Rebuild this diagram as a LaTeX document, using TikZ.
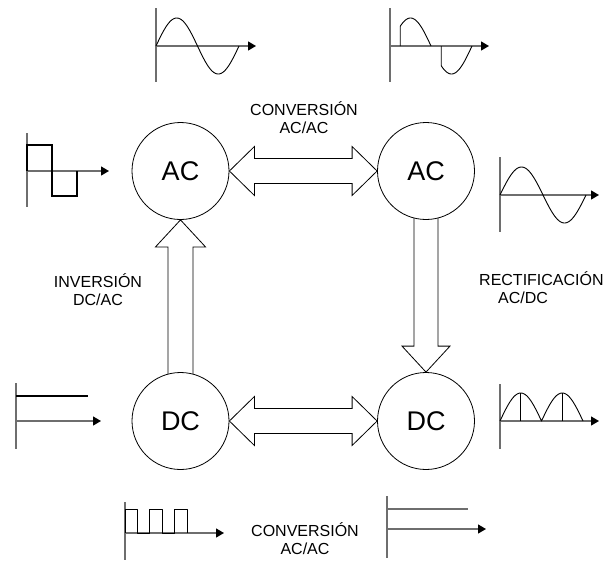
\documentclass[tikz,border=0pt]{standalone}
\usepackage{fontspec}
\setmainfont{Liberation Sans}
\usetikzlibrary{arrows.meta,calc,backgrounds}
\definecolor{axisgray}{RGB}{110,110,110}
\begin{document}
\begin{tikzpicture}[x=1pt,y=-1pt,
  statenode/.style={circle,draw,fill=white,line width=0.8pt,minimum size=97pt,inner sep=0pt,font=\fontsize{27}{30}\selectfont},
  lbl/.style={font=\fontsize{16}{18}\selectfont,inner sep=0pt},
  bigarrow/.style={draw,fill=white,line width=0.8pt,line join=miter},
  axisline/.style={draw=axisgray,line width=1.3pt},
  axisarrow/.style={axisline,-{Triangle[length=8pt,width=9pt,fill=black,color=black]}},
  waveline/.style={black,line width=0.9pt,line join=round},
  thickwave/.style={black,line width=1.8pt,line join=miter}]
\useasboundingbox (0,0) rectangle (610,560);

% state circles
\node[statenode] (acL) at (180.5,171) {AC};
\node[statenode] (acR) at (426,171) {AC};
\node[statenode] (dcL) at (180.5,421) {DC};
\node[statenode] (dcR) at (426,421) {DC};

% big hollow arrows
\begin{scope}[on background layer]
\draw[bigarrow] (acL.east) -- ++(25,-24.5) -- ++(0,12) -- ($(acR.west)+(-25,-12.5)$) -- ++(0,-12)
  -- (acR.west) -- ++(-25,24.5) -- ++(0,-12) -- ($(acL.east)+(25,12.5)$) -- ++(0,12) -- cycle;
\draw[bigarrow] (dcL.east) -- ++(25,-24.5) -- ++(0,12) -- ($(dcR.west)+(-25,-12.5)$) -- ++(0,-12)
  -- (dcR.west) -- ++(-25,24.5) -- ++(0,-12) -- ($(dcL.east)+(25,12.5)$) -- ++(0,12) -- cycle;
\draw[bigarrow] (acL.south) -- ++(25,27) -- ++(-12.5,0) -- ($(dcL.north)+(12.5,5)$)
  -- ($(dcL.north)+(-12.5,5)$) -- ($(acL.south)+(-12.5,27)$) -- ++(-12.5,0) -- cycle;
\draw[bigarrow] (dcR.north) -- ++(24,-26) -- ++(-12,0) -- ($(acR.south)+(12,-5)$)
  -- ($(acR.south)+(-12,-5)$) -- ($(dcR.north)+(-12,-26)$) -- ++(-12,0) -- cycle;
\end{scope}

% labels
\node[lbl,align=center] (convTop) at (304,118) {CONVERSIÓN\\AC/AC};
\node[lbl,align=center] (inv) at (98,289.5) {INVERSIÓN\\DC/AC};
\node[lbl,align=left,anchor=west] (rect) at (479,287.5) {RECTIFICACIÓN\\\hspace*{19pt}AC/DC};
\node[lbl,align=center] (convBot) at (305,539) {CONVERSIÓN\\AC/AC};

% waveform 1: sine (top left)
\draw[axisline] (156,8) -- (156,82);
\draw[axisarrow] (156,46) -- (256,46);
\draw[waveline] plot[domain=0:360,samples=73] ({156+\x/360*83},{46-28*sin(\x)});

% waveform 2: chopped sine (top right)
\draw[axisline] (390,8) -- (390,82);
\draw[axisarrow] (390,46) -- (489,46);
\draw[waveline] ({390+45/360*82},46) -- ({390+45/360*82},{46-28*sin(45)})
  plot[domain=45:180,samples=30] ({390+\x/360*82},{46-28*sin(\x)});
\draw[waveline] ({390+225/360*82},46) -- ({390+225/360*82},{46-28*sin(225)})
  plot[domain=225:360,samples=30] ({390+\x/360*82},{46-28*sin(\x)});

% waveform 3: square (left)
\draw[axisline] (27,133) -- (27,207);
\draw[axisarrow] (27,171) -- (109,171);
\draw[thickwave] (27,171) -- (27,145) -- (52,145) -- (52,196) -- (77,196) -- (77,171);

% waveform 4: sine (right)
\draw[axisline] (500,157) -- (500,232);
\draw[axisarrow] (500,195) -- (599,195);
\draw[waveline] plot[domain=0:360,samples=73] ({500+\x/360*86},{195-28*sin(\x)});

% waveform 5: DC (left)
\draw[axisline] (16,383) -- (16,449);
\draw[thickwave] (16,396) -- (88,396);
\draw[axisarrow] (16,421) -- (101,421);

% waveform 6: rectified (right)
\draw[axisline] (500,384) -- (500,449);
\draw[axisarrow] (500,421) -- (599,421);
\draw[waveline] plot[domain=0:360,samples=73] ({500+\x/360*83},{421-28*abs(sin(\x))});
\draw[waveline] (520.75,421) -- (520.75,393);
\draw[waveline] (562.25,421) -- (562.25,393);

% waveform 7: pulses (bottom)
\draw[axisline] (125,502) -- (125,560);
\draw[axisarrow] (125,533) -- (224,533);
\draw[waveline] (125,533) -- (125,509) -- (137,509) -- (137,533) -- (149.5,533) -- (149.5,509)
  -- (162,509) -- (162,533) -- (174.5,533) -- (174.5,509) -- (187,509) -- (187,533);

% waveform 8: DC (bottom right)
\draw[axisline] (387,496) -- (387,558);
\draw[axisline] (387,509) -- (468,509);
\draw[axisarrow] (387,529) -- (486,529);
\end{tikzpicture}
\end{document}
